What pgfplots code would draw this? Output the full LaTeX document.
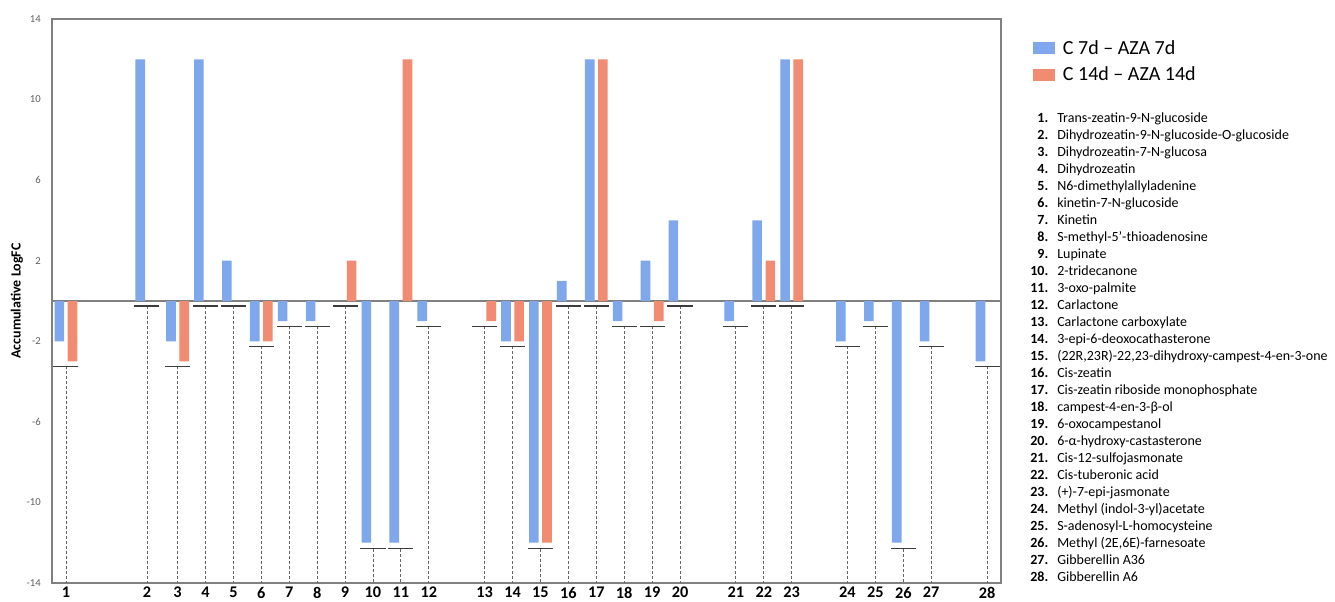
\documentclass[border=0pt]{standalone}
\usepackage{pgfplots}
\pgfplotsset{compat=1.18}
\usepackage{pgfplotstable}
\usepackage{fontspec}
\setmainfont{Carlito}
\definecolor{cblue}{RGB}{126,167,236}
\definecolor{corange}{RGB}{241,139,114}
\definecolor{framegray}{RGB}{128,128,128}
\definecolor{tickgray}{RGB}{95,95,95}
\definecolor{capgray}{RGB}{60,60,60}

\pgfplotstableread{
x y
0 -2
2.9 12
4 -2
5 12
6 2
7 -2
8 -1
9 -1
11 -12
12 -12
13 -1
16 -2
17 -12
18 1
19 12
20 -1
21 2
22 4
24 -1
25 4
26 12
28 -2
29 -1
30 -12
31 -2
33 -3
}\blueT

\pgfplotstableread{
x y
0 -3
4 -3
7 -2
10 2
12 12
15 -1
16 -2
17 -12
19 12
21 -1
25 2
26 12
}\orangeT

\pgfplotstableread{
x c e
0 -3.25 10.75
2.9 -0.25 13.75
4 -3.25 10.75
5 -0.25 13.75
6 -0.25 13.75
7 -2.25 11.75
8 -1.25 12.75
9 -1.25 12.75
10 -0.25 13.75
11 -12.3 1.7
12 -12.3 1.7
13 -1.25 12.75
15 -1.25 12.75
16 -2.25 11.75
17 -12.3 1.7
18 -0.25 13.75
19 -0.25 13.75
20 -1.25 12.75
21 -1.25 12.75
22 -0.25 13.75
24 -1.25 12.75
25 -0.25 13.75
26 -0.25 13.75
28 -2.25 11.75
29 -1.25 12.75
30 -12.3 1.7
31 -2.25 11.75
33 -3.25 10.75
}\capT

\newcommand\itm[2]{\makebox[13.5pt][r]{\bfseries #1.}\hspace{6.75pt}#2\\}

\begin{document}
\begin{tikzpicture}
\path[use as bounding box] (0,0) rectangle (1001.25pt,450.75pt);
\begin{axis}[
  at={(39pt,13.5pt)}, anchor=south west,
  scale only axis, width=711.75pt, height=423pt,
  xmin=-0.5, xmax=33.5, ymin=-14, ymax=14,
  axis line style={framegray, line width=1.5pt},
  xtick={0,2.9,4,5,6,7,8,9,10,11,12,13,15,16,17,18,19,20,21,22,24,25,26,28,29,30,31,33},
  xticklabels={1,2,3,4,5,6,7,8,9,10,11,12,13,14,15,16,17,18,19,20,21,22,23,24,25,26,27,28},
  ytick={-14,-10,-6,-2,2,6,10,14},
  major tick length=0pt,
  /pgf/number format/assume math mode=true,
  yticklabel style={font=\fontsize{8}{9}\selectfont, text=tickgray, inner sep=0pt, xshift=-8.25pt},
  xticklabel style={font=\fontsize{12.2}{13}\selectfont\bfseries, inner sep=0pt, yshift=-2.8pt, anchor=north},
  ylabel={Accumulative LogFC},
  every axis y label/.style={at={(rel axis cs:-0.0369,0.5)}, rotate=90, anchor=center, font=\fontsize{10.5}{12}\selectfont\bfseries},
  extra y ticks={0}, extra y tick labels={},
  extra y tick style={grid=major, major grid style={framegray, line width=1.1pt}},
  clip=false,
  legend style={at={(rel axis cs:1.0337,0.9628)}, anchor=north west, draw=none, fill=none, inner sep=0pt,
    font=\fontsize{15}{18}\selectfont, row sep=8pt, nodes={inner sep=0pt},
    /tikz/every odd column/.append style={column sep=5.8pt}},
  legend cell align=left,
]
\addplot[ybar, bar width=0.345, bar shift=-0.236, fill=cblue, draw=none,
  legend image code/.code={\fill[cblue] (0pt,-4.5pt) rectangle (16.5pt,4.5pt);}]
  table[x=x,y=y]{\blueT};
\addlegendentry{C 7d – AZA 7d}
\addplot[ybar, bar width=0.345, bar shift=0.236, fill=corange, draw=none,
  legend image code/.code={\fill[corange] (0pt,-4.5pt) rectangle (16.5pt,4.5pt);}]
  table[x=x,y=y]{\orangeT};
\addlegendentry{C 14d – AZA 14d}
\addplot[forget plot, only marks, mark=-, mark size=9.4pt, color=capgray,
  mark options={line width=1pt, draw=capgray},
  error bars/.cd, y dir=minus, y explicit, error mark=none,
  error bar style={dash pattern=on 2.25pt off 1.5pt, line width=0.6pt, draw=black!60}]
  table[x=x, y=c, y error=e]{\capT};
\end{axis}
\node[anchor=base west, inner sep=0pt, font=\fontsize{10.5}{12.75}\selectfont] at (772.5pt,359.1pt) {%
\begin{tabular}[t]{@{}l@{}}
\itm{1}{Trans-zeatin-9-N-glucoside}
\itm{2}{Dihydrozeatin-9-N-glucoside-O-glucoside}
\itm{3}{Dihydrozeatin-7-N-glucosa}
\itm{4}{Dihydrozeatin}
\itm{5}{N6-dimethylallyladenine}
\itm{6}{kinetin-7-N-glucoside}
\itm{7}{Kinetin}
\itm{8}{S-methyl-5'-thioadenosine}
\itm{9}{Lupinate}
\itm{10}{2-tridecanone}
\itm{11}{3-oxo-palmite}
\itm{12}{Carlactone}
\itm{13}{Carlactone carboxylate}
\itm{14}{3-epi-6-deoxocathasterone}
\itm{15}{(22R,23R)-22,23-dihydroxy-campest-4-en-3-one}
\itm{16}{Cis-zeatin}
\itm{17}{Cis-zeatin riboside monophosphate}
\itm{18}{campest-4-en-3-β-ol}
\itm{19}{6-oxocampestanol}
\itm{20}{6-α-hydroxy-castasterone}
\itm{21}{Cis-12-sulfojasmonate}
\itm{22}{Cis-tuberonic acid}
\itm{23}{(+)-7-epi-jasmonate}
\itm{24}{Methyl (indol-3-yl)acetate}
\itm{25}{S-adenosyl-L-homocysteine}
\itm{26}{Methyl (2E,6E)-farnesoate}
\itm{27}{Gibberellin A36}
\itm{28}{Gibberellin A6}
\end{tabular}};
\end{tikzpicture}
\end{document}
